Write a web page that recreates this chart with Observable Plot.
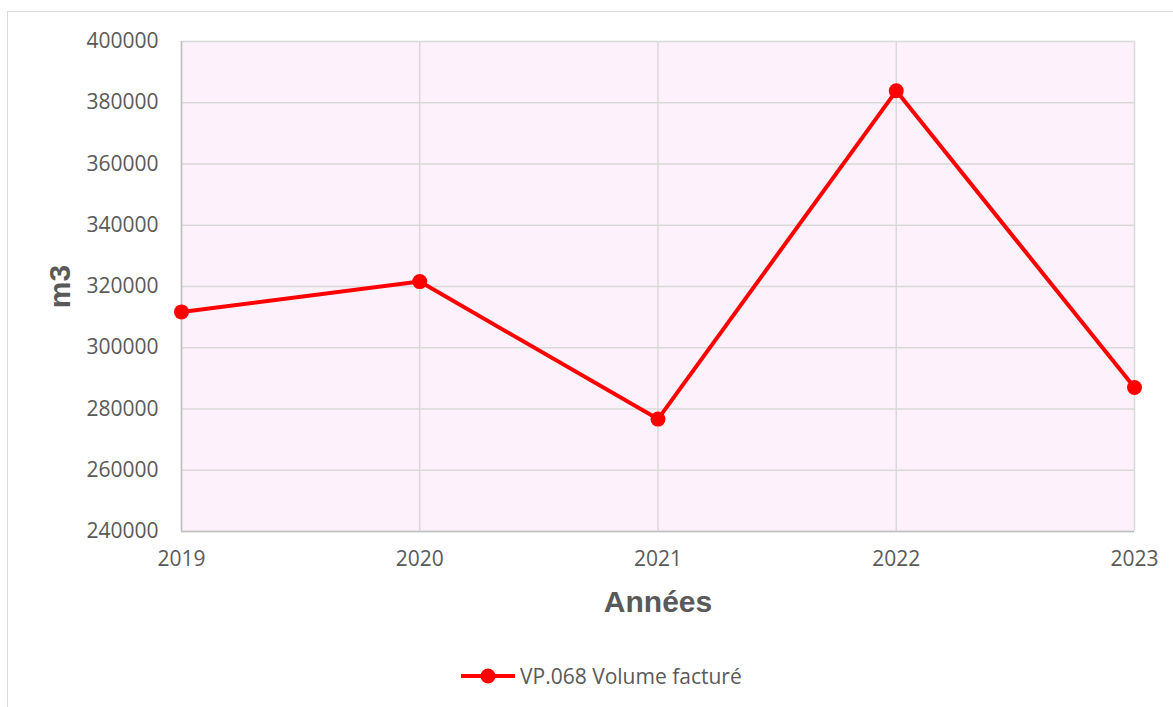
<!DOCTYPE html>
<html>
<head>
<meta charset="utf-8">
<script src="https://cdn.jsdelivr.net/npm/d3@7"></script>
<script src="https://cdn.jsdelivr.net/npm/@observablehq/plot@0.6"></script>
<style>
  html, body { margin: 0; padding: 0; background: #ffffff; width: 1173px; height: 707px; overflow: hidden; }
  body { font-family: "Open Sans", sans-serif; position: relative; }
  #frame { position: absolute; left: 7px; top: 11px; width: 1180px; height: 710px; border: 1px solid #d9d9d9; box-sizing: border-box; }
  #chart { position: absolute; left: 0; top: 0; }
  #legend { position: absolute; left: 460px; top: 660px; height: 32px; display: flex; align-items: center; color: #595959; font-size: 21px; white-space: nowrap; }
  #legend svg { display: block; margin-right: 4px; }
</style>
</head>
<body>
<div id="frame"></div>
<div id="chart"></div>
<div id="legend"></div>
<script>
const years = [2019, 2020, 2021, 2022, 2023];
const volumes = [311700, 321600, 276700, 383900, 287000];
const yTicks = [240000, 260000, 280000, 300000, 320000, 340000, 360000, 380000, 400000];
const seriesName = "VP.068 Volume facturé";
const xTitle = "Années";
const yTitle = "m3";

const data = years.map((y, i) => ({year: y, value: volumes[i]}));
const red = "#ff0000";
const grid = "#d9d9d9";
const txt = "#595959";

const chart = Plot.plot({
  width: 1173,
  height: 640,
  marginLeft: 181,
  marginRight: 39,
  marginTop: 41,
  marginBottom: 109,
  x: {type: "linear", domain: [2019, 2023]},
  y: {type: "linear", domain: [240000, 400000]},
  style: {background: "transparent", fontFamily: "'Open Sans', sans-serif", fontSize: "21px", color: txt, overflow: "visible"},
  marks: [
    Plot.frame({fill: "#fdf2fb", stroke: null}),
    Plot.gridX(years, {stroke: grid, strokeOpacity: 1, strokeWidth: 1.5}),
    Plot.gridY(yTicks, {stroke: grid, strokeOpacity: 1, strokeWidth: 1.5}),
    Plot.ruleX([2019], {stroke: "#bfbfbf", strokeWidth: 1.5}),
    Plot.ruleY([240000], {stroke: "#bfbfbf", strokeWidth: 1.5}),
    Plot.axisX(years, {tickSize: 0, tickPadding: 20, tickFormat: d => String(d), label: null, fill: txt, fontSize: 21}),
    Plot.axisY(yTicks, {tickSize: 0, tickPadding: 23, tickFormat: d => String(d), label: null, fill: txt, fontSize: 21}),
    Plot.line(data, {x: "year", y: "value", stroke: red, strokeWidth: 4}),
    Plot.dot(data, {x: "year", y: "value", r: 7.5, fill: red, stroke: null}),
    Plot.text([xTitle], {frameAnchor: "bottom", dy: 71, lineAnchor: "middle", textAnchor: "middle", text: d => d, fontSize: 30, fontWeight: "bold", fill: txt, fontFamily: "'Liberation Sans', Arial, sans-serif"}),
    Plot.text([yTitle], {frameAnchor: "left", dx: -121, rotate: -90, lineAnchor: "middle", textAnchor: "middle", text: d => d, fontSize: 30, fontWeight: "bold", fill: txt, fontFamily: "'Liberation Sans', Arial, sans-serif"})
  ]
});
document.getElementById("chart").appendChild(chart);

const legend = document.getElementById("legend");
legend.innerHTML = `<svg width="56" height="20"><line x1="1" y1="10" x2="55" y2="10" stroke="${red}" stroke-width="4"/><circle cx="28" cy="10" r="7.5" fill="${red}"/></svg><span>${seriesName}</span>`;
</script>
</body>
</html>
